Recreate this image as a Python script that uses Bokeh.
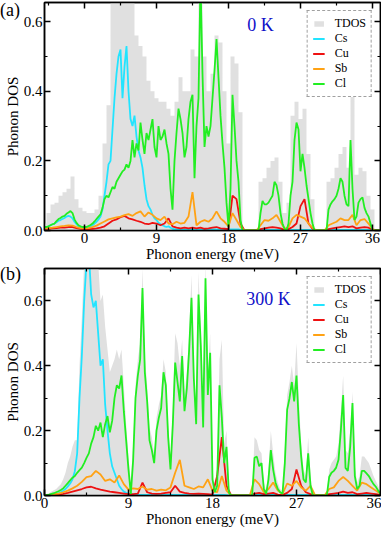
import numpy as np
from bokeh.plotting import figure
from bokeh.layouts import column, row
from bokeh.models import Range1d, LinearAxis, FixedTicker, PrintfTickFormatter, Label, Div
from bokeh.embed import file_html
from bokeh.resources import INLINE

FONT = "Liberation Serif"

# ---------------- (a) 0 K ----------------
# fine grid: -5 .. 37 step 0.25 (Cl, Cs)
cl_top = [
    0.01, 0.01, 0.012, 0.015, 0.018, 0.02, 0.027, 0.033,
    0.036, 0.04, 0.042, 0.048, 0.052, 0.056, 0.05, 0.032,
    0.022, 0.015, 0.012, 0.01, 0.01, 0.01, 0.013, 0.016,
    0.02, 0.026, 0.033, 0.04, 0.046, 0.065, 0.09, 0.1,
    0.095, 0.11, 0.125, 0.12, 0.14, 0.15, 0.16, 0.17,
    0.175, 0.19, 0.18, 0.2, 0.26, 0.21, 0.25, 0.23,
    0.31, 0.26, 0.22, 0.28, 0.26, 0.29, 0.32, 0.24,
    0.21, 0.3, 0.26, 0.27, 0.29, 0.25, 0.22, 0.12,
    0.06, 0.2, 0.28, 0.35, 0.32, 0.28, 0.21, 0.24,
    0.32, 0.37, 0.39, 0.15, 0.3, 0.38, 0.72, 0.45,
    0.24, 0.3, 0.27, 0.3, 0.38, 0.46, 0.55, 0.44,
    0.33, 0.25, 0.18, 0.08, 0.01, 0.12, 0.39, 0.3,
    0.2, 0.14, 0.03, 0.0, 0.0, 0.0, 0.0, 0.0,
    0.0, 0.0, 0.0, 0.0, 0.05, 0.085, 0.075, 0.075,
    0.08, 0.09, 0.1, 0.14, 0.13, 0.1, 0.05, 0.02,
    0.005, 0.0, 0.02, 0.1, 0.14, 0.26, 0.31, 0.29,
    0.17, 0.22, 0.18, 0.13, 0.09, 0.05, 0.02, 0.0,
    0.0, 0.0, 0.0, 0.0, 0.0, 0.0, 0.06, 0.075,
    0.084, 0.09, 0.1, 0.12, 0.15, 0.14, 0.1, 0.075,
    0.07, 0.26, 0.12, 0.03, 0.04, 0.08, 0.09, 0.095,
    0.065, 0.05, 0.04, 0.02, 0.0, 0.0, 0.0, 0.0,
    0.0,
]
cs_top = [
    0.008, 0.01, 0.012, 0.015, 0.018, 0.02, 0.024, 0.028,
    0.03, 0.033, 0.036, 0.04, 0.042, 0.04, 0.035, 0.025,
    0.018, 0.012, 0.01, 0.008, 0.008, 0.008, 0.01, 0.012,
    0.015, 0.02, 0.025, 0.032, 0.04, 0.06, 0.1, 0.14,
    0.19, 0.2, 0.29, 0.38, 0.45, 0.5, 0.52, 0.38,
    0.47, 0.53, 0.4, 0.32, 0.3, 0.33, 0.27, 0.23,
    0.21, 0.18, 0.13, 0.09, 0.07, 0.06, 0.045, 0.035,
    0.03, 0.022, 0.018, 0.015, 0.012, 0.01, 0.012, 0.008,
    0.005, 0.004, 0.003, 0.003, 0.003, 0.003, 0.003, 0.003,
    0.003, 0.003, 0.003, 0.003, 0.003, 0.003, 0.003, 0.003,
    0.003, 0.003, 0.003, 0.003, 0.003, 0.003, 0.003, 0.003,
    0.003, 0.003, 0.003, 0.003, 0.003, 0.003, 0.003, 0.003,
    0.003, 0.003, 0.002, 0.0, 0.0, 0.0, 0.0, 0.0,
    0.0, 0.0, 0.0, 0.0, 0.002, 0.002, 0.002, 0.002,
    0.002, 0.002, 0.002, 0.002, 0.002, 0.002, 0.002, 0.002,
    0.001, 0.0, 0.001, 0.002, 0.002, 0.002, 0.002, 0.002,
    0.002, 0.002, 0.002, 0.002, 0.002, 0.002, 0.001, 0.0,
    0.0, 0.0, 0.0, 0.0, 0.0, 0.0, 0.002, 0.002,
    0.002, 0.002, 0.002, 0.002, 0.002, 0.002, 0.002, 0.002,
    0.002, 0.002, 0.002, 0.002, 0.002, 0.002, 0.002, 0.002,
    0.002, 0.002, 0.002, 0.001, 0.0, 0.0, 0.0, 0.0,
    0.0,
]
# coarse grid: -5 .. 37 step 0.5 (TDOS, Cu, Sb)
tdos_top = [
    0.02, 0.05, 0.075, 0.08, 0.1, 0.11, 0.12, 0.155,
    0.09, 0.065, 0.055, 0.05, 0.05, 0.06, 0.1, 0.25,
    0.36, 0.7, 0.7, 0.7, 0.7, 0.7, 0.7, 0.56,
    0.53, 0.5, 0.43, 0.4, 0.38, 0.37, 0.37, 0.35,
    0.33, 0.37, 0.44, 0.4, 0.4, 0.52, 0.5, 0.7,
    0.5, 0.4, 0.45, 0.56, 0.54, 0.4, 0.25, 0.5,
    0.48, 0.34, 0.0, 0.0, 0.0, 0.0, 0.14, 0.15,
    0.18, 0.2, 0.21, 0.14, 0.05, 0.08, 0.33, 0.37,
    0.32, 0.35, 0.22, 0.09, 0.0, 0.0, 0.0, 0.14,
    0.15, 0.18, 0.22, 0.24, 0.18, 0.39, 0.16, 0.18,
    0.17, 0.1, 0.06, 0.0, 0.0,
]
cu_top = [
    0.005, 0.005, 0.006, 0.007, 0.008, 0.008, 0.01, 0.01,
    0.007, 0.005, 0.004, 0.004, 0.005, 0.006, 0.008, 0.012,
    0.02, 0.028, 0.032, 0.038, 0.042, 0.035, 0.032, 0.028,
    0.025, 0.02, 0.018, 0.022, 0.02, 0.015, 0.02, 0.035,
    0.012, 0.008, 0.006, 0.008, 0.006, 0.008, 0.006, 0.008,
    0.005, 0.006, 0.008, 0.01, 0.006, 0.005, 0.004, 0.1,
    0.09, 0.02, 0.0, 0.0, 0.0, 0.0, 0.004, 0.006,
    0.008, 0.01, 0.008, 0.006, 0.002, 0.004, 0.01, 0.02,
    0.07, 0.09, 0.02, 0.005, 0.0, 0.0, 0.0, 0.004,
    0.006, 0.008, 0.01, 0.012, 0.01, 0.012, 0.006, 0.008,
    0.01, 0.008, 0.002, 0.0, 0.0,
]
sb_top = [
    0.006, 0.007, 0.008, 0.01, 0.012, 0.013, 0.015, 0.014,
    0.01, 0.007, 0.006, 0.007, 0.01, 0.014, 0.02, 0.026,
    0.032, 0.035, 0.038, 0.04, 0.044, 0.047, 0.042, 0.05,
    0.055, 0.04, 0.052, 0.045, 0.035, 0.03, 0.04, 0.02,
    0.018, 0.025, 0.02, 0.022, 0.04, 0.11, 0.015, 0.025,
    0.03, 0.025, 0.035, 0.055, 0.035, 0.025, 0.012, 0.05,
    0.03, 0.01, 0.0, 0.0, 0.0, 0.0, 0.015, 0.03,
    0.028, 0.035, 0.045, 0.025, 0.005, 0.01, 0.035, 0.045,
    0.04, 0.035, 0.02, 0.008, 0.0, 0.0, 0.0, 0.015,
    0.02, 0.025, 0.035, 0.03, 0.03, 0.045, 0.015, 0.03,
    0.033, 0.02, 0.004, 0.0, 0.0,
]

# ---------------- (b) 300 K ----------------
# fine grid: 0 .. 36 step 0.25 (Cl, Cs, TDOS)
cl_bot = [
    0.0, 0.002, 0.003, 0.005, 0.007, 0.01, 0.013, 0.017,
    0.022, 0.03, 0.038, 0.047, 0.055, 0.06, 0.07, 0.078,
    0.086, 0.1, 0.116, 0.13, 0.16, 0.18, 0.215, 0.2,
    0.225, 0.18, 0.22, 0.245, 0.195, 0.23, 0.3, 0.34,
    0.33, 0.37, 0.26, 0.17, 0.08, 0.005, 0.11, 0.3,
    0.37, 0.42, 0.64, 0.38, 0.29, 0.17, 0.14, 0.1,
    0.2, 0.24, 0.27, 0.38, 0.34, 0.18, 0.08, 0.22,
    0.41, 0.35, 0.29, 0.43, 0.26, 0.33, 0.45, 0.61,
    0.36, 0.22, 0.62, 0.46, 0.21, 0.67, 0.31, 0.44,
    0.05, 0.01, 0.03, 0.34, 0.24, 0.1, 0.15, 0.01,
    0.0, 0.0, 0.0, 0.0, 0.0, 0.0, 0.0, 0.0,
    0.0, 0.0, 0.116, 0.12, 0.09, 0.1, 0.02, 0.005,
    0.05, 0.14, 0.08, 0.04, 0.02, 0.01, 0.005, 0.1,
    0.265, 0.3, 0.35, 0.29, 0.37, 0.22, 0.12, 0.05,
    0.04, 0.13, 0.03, 0.0, 0.0, 0.0, 0.0, 0.0,
    0.0, 0.0, 0.057, 0.07, 0.076, 0.086, 0.11, 0.2,
    0.31, 0.085, 0.076, 0.15, 0.285, 0.06, 0.02, 0.03,
    0.076, 0.076, 0.068, 0.06, 0.047, 0.035, 0.027, 0.015,
    0.005,
]
cs_bot = [
    0.0, 0.001, 0.002, 0.003, 0.004, 0.005, 0.007, 0.01,
    0.015, 0.02, 0.028, 0.037, 0.05, 0.075, 0.13, 0.3,
    0.43, 0.6, 0.72, 0.75, 0.62, 0.58, 0.6, 0.5,
    0.4, 0.42, 0.28, 0.2, 0.13, 0.09, 0.07, 0.05,
    0.03, 0.02, 0.012, 0.008, 0.005, 0.004, 0.003, 0.002,
    0.002, 0.002, 0.002, 0.002, 0.002, 0.002, 0.002, 0.002,
    0.002, 0.002, 0.002, 0.002, 0.002, 0.002, 0.002, 0.002,
    0.002, 0.002, 0.002, 0.002, 0.002, 0.002, 0.002, 0.002,
    0.002, 0.002, 0.002, 0.002, 0.002, 0.002, 0.002, 0.002,
    0.002, 0.002, 0.002, 0.002, 0.002, 0.002, 0.001, 0.0,
    0.0, 0.0, 0.0, 0.0, 0.0, 0.0, 0.0, 0.0,
    0.0, 0.0, 0.002, 0.002, 0.002, 0.002, 0.001, 0.001,
    0.002, 0.002, 0.002, 0.002, 0.002, 0.002, 0.002, 0.002,
    0.002, 0.002, 0.002, 0.002, 0.002, 0.002, 0.002, 0.002,
    0.002, 0.002, 0.001, 0.0, 0.0, 0.0, 0.0, 0.0,
    0.0, 0.0, 0.002, 0.002, 0.002, 0.002, 0.002, 0.002,
    0.002, 0.002, 0.002, 0.002, 0.002, 0.002, 0.002, 0.002,
    0.002, 0.002, 0.002, 0.002, 0.002, 0.002, 0.002, 0.002,
    0.001,
]
tdos_bot = [
    0.002, 0.005, 0.008, 0.012, 0.016, 0.02, 0.028, 0.035,
    0.05, 0.07, 0.1, 0.12, 0.15, 0.17, 0.17, 0.4,
    0.55, 0.72, 0.75, 0.75, 0.75, 0.75, 0.75, 0.72,
    0.6, 0.62, 0.52, 0.45, 0.38, 0.4, 0.42, 0.45,
    0.42, 0.45, 0.34, 0.22, 0.12, 0.04, 0.16, 0.34,
    0.42, 0.47, 0.7, 0.43, 0.34, 0.21, 0.18, 0.13,
    0.24, 0.28, 0.31, 0.42, 0.38, 0.22, 0.12, 0.27,
    0.5, 0.47, 0.4, 0.48, 0.31, 0.38, 0.5, 0.68,
    0.4, 0.26, 0.69, 0.5, 0.26, 0.72, 0.38, 0.5,
    0.08, 0.02, 0.1, 0.42, 0.48, 0.16, 0.2, 0.03,
    0.0, 0.0, 0.0, 0.0, 0.0, 0.0, 0.0, 0.0,
    0.0, 0.0, 0.18, 0.17, 0.14, 0.13, 0.04, 0.015,
    0.08, 0.2, 0.13, 0.07, 0.04, 0.02, 0.012, 0.15,
    0.31, 0.35, 0.4, 0.34, 0.47, 0.3, 0.16, 0.08,
    0.06, 0.18, 0.06, 0.005, 0.0, 0.0, 0.0, 0.0,
    0.0, 0.0, 0.08, 0.1, 0.11, 0.12, 0.16, 0.26,
    0.37, 0.14, 0.13, 0.2, 0.32, 0.09, 0.04, 0.06,
    0.12, 0.12, 0.11, 0.1, 0.08, 0.06, 0.045, 0.03,
    0.01,
]
# coarse grid: 0 .. 36 step 0.5 (Cu, Sb)
cu_bot = [
    0.0, 0.001, 0.002, 0.003, 0.005, 0.008, 0.012, 0.016,
    0.02, 0.025, 0.027, 0.022, 0.018, 0.015, 0.012, 0.01,
    0.008, 0.006, 0.004, 0.004, 0.006, 0.04, 0.01, 0.006,
    0.005, 0.006, 0.008, 0.01, 0.03, 0.012, 0.008, 0.006,
    0.005, 0.006, 0.005, 0.004, 0.003, 0.06, 0.18, 0.03,
    0.0, 0.0, 0.0, 0.0, 0.0, 0.006, 0.008, 0.004,
    0.006, 0.008, 0.003, 0.002, 0.008, 0.02, 0.08, 0.03,
    0.01, 0.004, 0.0, 0.0, 0.0, 0.004, 0.006, 0.008,
    0.012, 0.008, 0.01, 0.004, 0.006, 0.008, 0.006, 0.004,
    0.002,
]
sb_bot = [
    0.0, 0.002, 0.004, 0.006, 0.01, 0.015, 0.022, 0.03,
    0.042, 0.057, 0.06, 0.076, 0.065, 0.045, 0.05, 0.04,
    0.062, 0.035, 0.018, 0.022, 0.02, 0.028, 0.018, 0.02,
    0.015, 0.018, 0.016, 0.025, 0.07, 0.11, 0.03, 0.025,
    0.02, 0.028, 0.025, 0.05, 0.015, 0.01, 0.06, 0.015,
    0.0, 0.0, 0.0, 0.0, 0.0, 0.05, 0.035, 0.01,
    0.02, 0.04, 0.015, 0.005, 0.037, 0.03, 0.045, 0.025,
    0.015, 0.03, 0.0, 0.0, 0.0, 0.02, 0.025, 0.045,
    0.057, 0.045, 0.03, 0.015, 0.04, 0.035, 0.025, 0.015,
    0.005,
]

x_ticks = [0, 9, 18, 27, 36]
x_minor = [-4.5, 4.5, 13.5, 22.5, 31.5]
y_ticks = [0.0, 0.2, 0.4, 0.6]
y_minor = [0.1, 0.3, 0.5]

C_TDOS = "#e0e0e0"
C_CS = "#22e4ff"
C_CU = "#ee1111"
C_SB = "#ffa214"
C_CL = "#22ee22"
LW = 1.8


def grid(start, step, n):
    return start + step * np.arange(n)


def style_axis(ax, labels=True):
    ax.axis_line_width = 1.5
    ax.axis_line_color = "black"
    ax.major_tick_in = 6
    ax.major_tick_out = 0
    ax.minor_tick_in = 3
    ax.minor_tick_out = 0
    ax.major_tick_line_width = 1.5
    ax.minor_tick_line_width = 1.2
    ax.major_label_text_font = FONT
    ax.major_label_text_color = "black"
    ax.axis_label_text_font = FONT
    ax.axis_label_text_font_style = "normal"
    ax.axis_label_text_color = "black"
    ax.axis_label_text_font_size = "15px"
    if labels:
        ax.major_label_text_font_size = "15px"
        ax.major_label_standoff = 2
    else:
        ax.formatter = PrintfTickFormatter(format="")
        ax.major_label_text_font_size = "1px"
        ax.major_label_standoff = 0
        ax.axis_label_standoff = 0


def panel(width, height, top_border, xr, yr, e_fine, e_coarse, tdos, tdos_x, cs, cu, sb, cl,
          tdos_step, temp, temp_x, temp_y):
    p = figure(width=width, height=height, x_range=Range1d(*xr), y_range=Range1d(*yr),
               output_backend="svg", toolbar_location=None,
               min_border_left=0, min_border_right=1, min_border_top=top_border,
               min_border_bottom=0)
    p.xgrid.visible = False
    p.ygrid.visible = False
    p.outline_line_color = "black"
    p.outline_line_width = 1.5
    p.background_fill_color = "white"
    p.border_fill_color = None

    if tdos_step:
        p.varea_step(x=tdos_x, y1=0, y2=tdos, step_mode="center",
                     fill_color=C_TDOS, legend_label="TDOS")
    else:
        p.varea(x=tdos_x, y1=0, y2=tdos, fill_color=C_TDOS, legend_label="TDOS")
    p.line(e_fine, cs, line_color=C_CS, line_width=LW, legend_label="Cs")
    p.line(e_coarse, cu, line_color=C_CU, line_width=LW, legend_label="Cu")
    p.line(e_coarse, sb, line_color=C_SB, line_width=LW, legend_label="Sb")
    p.line(e_fine, cl, line_color=C_CL, line_width=LW, legend_label="Cl")

    xt = FixedTicker(ticks=x_ticks, minor_ticks=x_minor)
    yt = FixedTicker(ticks=y_ticks, minor_ticks=y_minor)

    for ax in p.xaxis:
        style_axis(ax)
        ax.ticker = xt
        ax.axis_label = "Phonon energy (meV)"
        ax.axis_label_standoff = 0
    for ax in p.yaxis:
        style_axis(ax)
        ax.ticker = yt
        ax.formatter = PrintfTickFormatter(format="%.1f")
        ax.axis_label = "Phonon DOS"
        ax.axis_label_standoff = 0

    top = LinearAxis()
    style_axis(top, labels=False)
    top.ticker = xt
    p.add_layout(top, "above")
    right = LinearAxis()
    style_axis(right, labels=False)
    right.ticker = yt
    p.add_layout(right, "right")

    lg = p.legend[0]
    lg.location = "top_right"
    lg.border_line_color = "#444444"
    lg.border_line_dash = "4 3"
    lg.border_line_width = 1.2
    lg.background_fill_color = "white"
    lg.background_fill_alpha = 1.0
    lg.label_text_font = FONT
    lg.label_text_font_size = "12px"
    lg.label_text_color = "black"
    lg.glyph_width = 12
    lg.glyph_height = 7
    lg.label_height = 10
    lg.label_standoff = 10
    lg.spacing = -3
    lg.padding = 5
    lg.margin = 8

    p.add_layout(Label(x=temp_x, y=temp_y, text=temp, text_font=FONT,
                       text_font_size="18px", text_color="#1010c8",
                       text_align="center", text_baseline="alphabetic"))
    return p


def tag_div(text):
    html = ('<span style="font-family:\'Liberation Serif\',serif;font-size:18px;'
            'color:#000;white-space:nowrap;line-height:20px">%s</span>' % text)
    return Div(text=html, width=1, height=22, margin=0,
               styles={"overflow": "visible", "position": "relative", "z-index": "5"})


e_top_f = grid(-5.0, 0.25, len(cl_top))
e_top_c = grid(-5.0, 0.5, len(cu_top))
e_bot_f = grid(0.0, 0.25, len(cl_bot))
e_bot_c = grid(0.0, 0.5, len(cu_bot))

p1 = panel(380, 264, 2, (-5, 37), (0, 0.655), e_top_f, e_top_c, tdos_top, e_top_c,
           cs_top, cu_top, sb_top, cl_top, True, "0 K", 22.0, 0.59)
p2 = panel(380, 265, 4, (0, 36), (0, 0.70), e_bot_f, e_bot_c, tdos_bot, e_bot_f,
           cs_bot, cu_bot, sb_bot, cl_bot, False, "300 K", 24.0, 0.605)

layout = column(row(tag_div("(a)"), p1, spacing=0),
                row(tag_div("(b)"), p2, spacing=0), spacing=0)
open("out.html", "w").write(file_html(layout, INLINE))
